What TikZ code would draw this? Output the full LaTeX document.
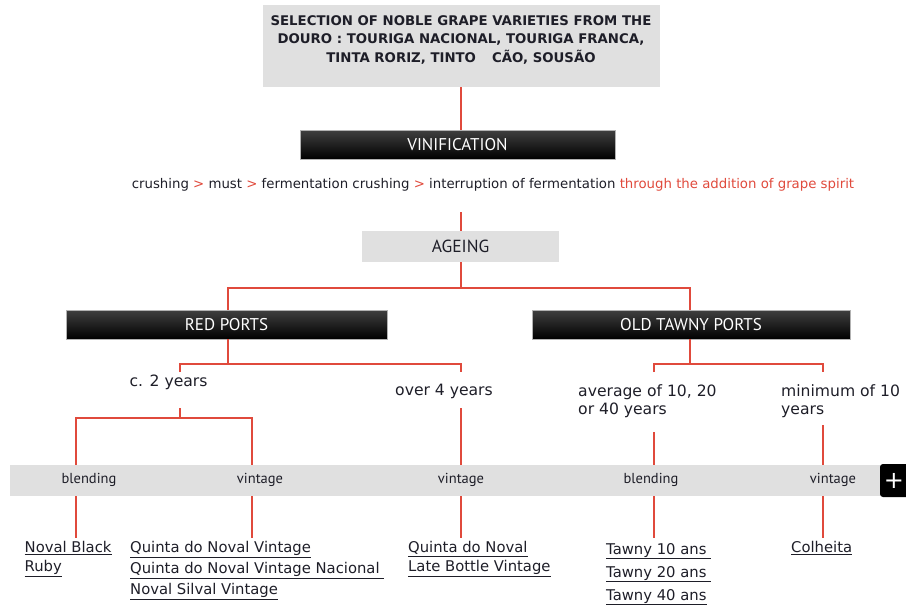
\documentclass[tikz,border=0pt]{standalone}
\usepackage{fontspec}
\setmainfont{DejaVu Sans}
\newfontfamily\gill{PT Sans}
\definecolor{lred}{HTML}{E04A3C}
\definecolor{pgray}{HTML}{E0E0E0}
\definecolor{ink}{HTML}{1E1E28}
\tikzset{
  link/.style={draw=lred, line width=2pt},
  graybox/.style={fill=pgray, draw=none, inner sep=0pt},
  blackbox/.style={top color=black!75, bottom color=black, draw=black!30, line width=0.4pt, inner sep=0pt,
     minimum height=29pt, text=white, font=\gill\fontsize{17}{18}\selectfont},
  lbl/.style={font=\fontsize{15.6}{18}\selectfont, text=ink, inner sep=0pt},
  barlbl/.style={font=\gill\fontsize{14.5}{17}\selectfont, text=ink, inner sep=0pt},
  prod/.style={font=\fontsize{14.8}{21}\selectfont, text=ink, inner sep=0pt, align=left, anchor=north west},
}
\begin{document}
\begin{tikzpicture}[x=1pt,y=-1pt]
\useasboundingbox (0,0) rectangle (906,608);
% top box
\node[graybox, minimum width=397pt, minimum height=82pt] (top) at (461.5,46) {};
\node[font=\bfseries\fontsize{13.3}{18.5}\selectfont, text=ink, align=center, inner sep=0pt] (toptxt) at (461,40)
  {SELECTION OF NOBLE GRAPE VARIETIES FROM THE\\DOURO : TOURIGA NACIONAL, TOURIGA FRANCA,\\TINTA RORIZ, TINTO\hspace{1.2em}CÃO, SOUSÃO};
% vinification
\node[blackbox, minimum width=315pt] (vin) at (457.5,144.5) {VINIFICATION};
\draw[link] (top.south -| 461,0) -- (vin.north -| 461,0);
\node[font=\fontsize{13.3}{16}\selectfont, text=ink, inner sep=0pt] (proc) at (493,185)
  {crushing \textcolor{lred}{>} must \textcolor{lred}{>} fermentation crushing \textcolor{lred}{>} interruption of fermentation \textcolor{lred}{through the addition of grape spirit}};
% ageing
\node[graybox, minimum width=197pt, minimum height=31pt, font=\gill\fontsize{17.5}{18}\selectfont, text=ink] (age) at (460.5,246.5) {AGEING};
\coordinate (procend) at (461,212);
\draw[link] (procend) -- (age.north -| procend);
% red / tawny
\node[blackbox, minimum width=321pt] (red) at (226.5,324.5) {RED PORTS};
\node[blackbox, minimum width=318pt] (tawny) at (691,324.5) {OLD TAWNY PORTS};
\coordinate (redtop) at (228,310);
\coordinate (tawnytop) at (690,310);
\draw[link] (age.south -| procend) -- (procend |- 0,288);
\draw[link] (redtop) -- (228,288) -- (690,288) -- (tawnytop);
% red branches
\node[lbl] (c2) at (168.5,382) {c. 2 years};
\node[lbl] (o4) at (444,391) {over 4 years};
\coordinate (redbot) at (228,339);
\draw[link] (redbot) -- (228,364);
\draw[link] (180,372) -- (180,364) -- (461,364) -- (461,372);
% tawny branches
\node[lbl, align=left, anchor=west, font=\fontsize{15.6}{18.5}\selectfont] (avg) at (578,401) {average of 10, 20\\or 40 years};
\node[lbl, align=left, anchor=west, font=\fontsize{15.6}{18.5}\selectfont] (minv) at (781,401) {minimum of 10\\years};
\coordinate (tawnybot) at (690,339);
\draw[link] (tawnybot) -- (690,364);
\draw[link] (654,372) -- (654,364) -- (823,364) -- (823,372);
% bar
\node[graybox, minimum width=896pt, minimum height=31pt, anchor=north west] (bar) at (10,465) {};
\node[barlbl] (b1) at (89,480) {blending};
\node[barlbl] (v1) at (260,480) {vintage};
\node[barlbl] (v2) at (461,480) {vintage};
\node[barlbl] (b2) at (651,480) {blending};
\node[barlbl] (v3) at (833,480) {vintage};
\fill[black, rounded corners=3pt] (880,464) rectangle (915,497);
\node[text=white, font=\fontsize{24}{24}\selectfont, inner sep=0pt] (plus) at (894,481) {+};
% connectors to bar
\draw[link] (180,408) -- (180,418);
\draw[link] (76,465) -- (76,418) -- (252,418) -- (252,465);
\draw[link] (461,408) -- (461,465);
\draw[link] (654,432) -- (654,465);
\draw[link] (823,425) -- (823,465);
% products
\foreach \x in {76,252,461,654,823} \draw[link] (\x,496) -- (\x,538);
\node[prod, font=\fontsize{14.8}{19}\selectfont] (p1) at (24.5,541) {\underline{Noval Black}\\\underline{Ruby}};
\node[prod] (p2) at (130,541) {\underline{Quinta do Noval Vintage}\\\underline{Quinta do Noval Vintage Nacional\ }\\\underline{Noval Silval Vintage}};
\node[prod, font=\fontsize{14.8}{19}\selectfont] (p3) at (408,541) {\underline{Quinta do Noval}\\\underline{Late Bottle Vintage}};
\node[prod, font=\fontsize{14.8}{23}\selectfont] (p4) at (606,543) {\underline{Tawny 10 ans\ }\\\underline{Tawny 20 ans\ }\\\underline{Tawny 40 ans}};
\node[prod] (p5) at (791,541) {\underline{Colheita}};
\end{tikzpicture}
\end{document}
